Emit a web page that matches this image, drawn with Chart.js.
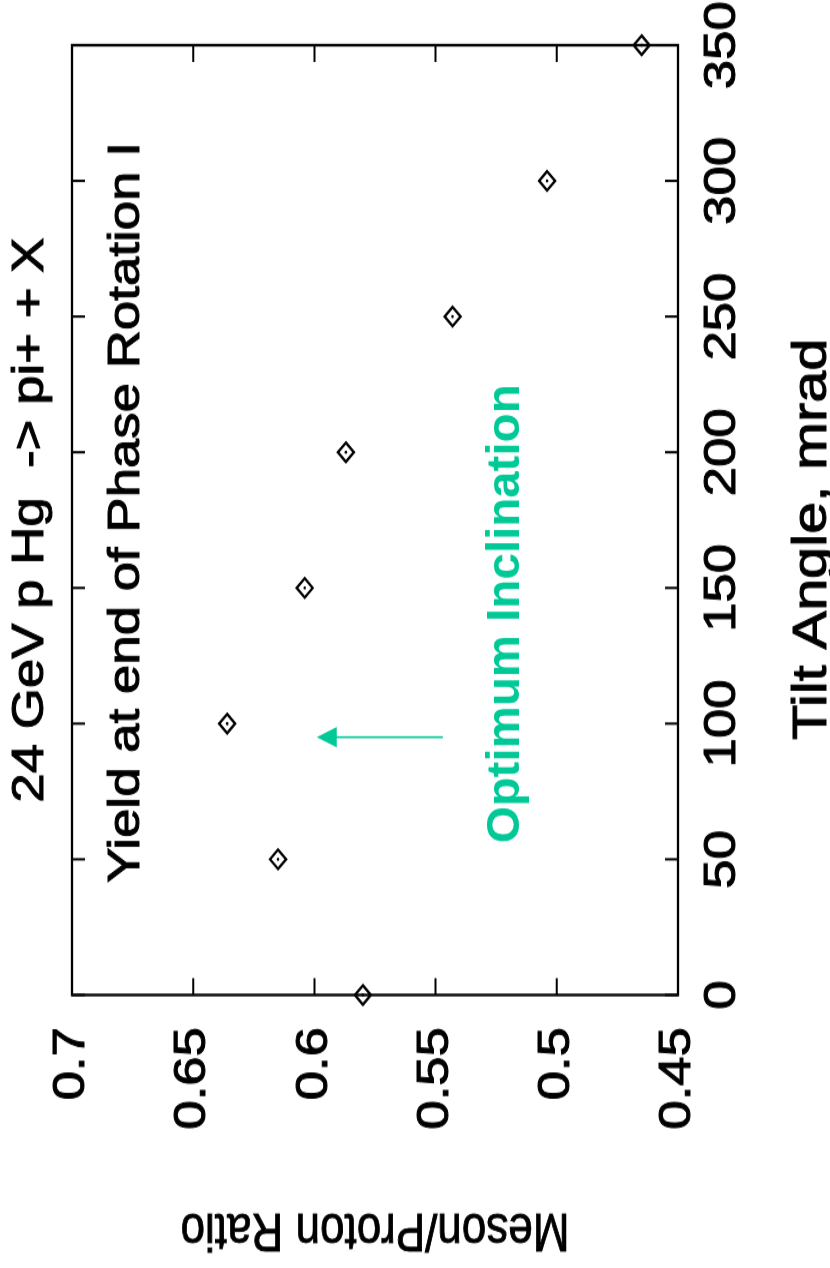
<!DOCTYPE html>
<html>
<head>
<meta charset="utf-8">
<script src="https://cdn.jsdelivr.net/npm/chart.js@4/dist/chart.umd.min.js"></script>
<style>
  html, body { margin: 0; padding: 0; background: #fff; overflow: hidden; }
  /* the plot is drawn upright and then turned a quarter left, like the scanned page */
  #wrap {
    position: absolute; left: 0; top: 0; width: 1057px; height: 830px;
    transform-origin: 0 0;
    transform: translate(0, 1268px) rotate(-90deg) scaleX(1.2);
  }
</style>
</head>
<body>
<div id="wrap"><canvas id="chart" width="1057" height="830"></canvas></div>
<script>
// Data
const tiltAngles = [0, 50, 100, 150, 200, 250, 300, 350];
const mesonRatio = [0.580, 0.615, 0.636, 0.604, 0.587, 0.543, 0.504, 0.465];
const xTicks = [0, 50, 100, 150, 200, 250, 300, 350];
const yTicks = [0.45, 0.5, 0.55, 0.6, 0.65, 0.7];
const yTickLabels = ['0.45', '0.5', '0.55', '0.6', '0.65', '0.7'];

// Annotation (arrow at the optimum)
const arrowX = 95;
const arrowFrom = 0.547;
const arrowTo = 0.599;

const FONT = '"Liberation Sans", Arial, Helvetica, sans-serif';
const GREEN = '#00c896';

function drawText(ctx, text, x, y, font, color, align, squeeze, stroke, rot) {
    ctx.save();
    ctx.translate(x, y);
    if (rot) ctx.rotate(rot);
    ctx.scale(squeeze || 1, 1);
    ctx.font = font;
    ctx.fillStyle = color;
    ctx.textAlign = align || 'left';
    ctx.textBaseline = rot ? 'middle' : 'alphabetic';
    ctx.fillText(text, 0, 0);
    if (stroke) {
        ctx.strokeStyle = color;
        ctx.lineWidth = stroke;
        ctx.strokeText(text, 0, 0);
    }
    ctx.restore();
}

// Box, inward ticks, arrow and labels
const framePlugin = {
    id: 'frame',
    afterDraw(chart) {
        const ctx = chart.ctx;
        const a = chart.chartArea;
        const xs = chart.scales.x;
        const ys = chart.scales.y;

        ctx.save();
        ctx.strokeStyle = '#000';
        ctx.lineWidth = 2.3;
        ctx.strokeRect(a.left, a.top, a.right - a.left, a.bottom - a.top);

        ctx.lineWidth = 2;
        ctx.beginPath();
        xTicks.forEach(v => {
            const px = xs.getPixelForValue(v);
            ctx.moveTo(px, a.top); ctx.lineTo(px, a.top + 13);
            ctx.moveTo(px, a.bottom); ctx.lineTo(px, a.bottom - 13);
        });
        yTicks.forEach(v => {
            const py = ys.getPixelForValue(v);
            ctx.moveTo(a.left, py); ctx.lineTo(a.left + 14, py);
            ctx.moveTo(a.right, py); ctx.lineTo(a.right - 14, py);
        });
        ctx.stroke();

        // arrow
        const ax = xs.getPixelForValue(arrowX);
        const y0 = ys.getPixelForValue(arrowFrom);
        const y1 = ys.getPixelForValue(arrowTo);
        ctx.strokeStyle = GREEN;
        ctx.fillStyle = GREEN;
        ctx.lineWidth = 1.6;
        ctx.beginPath();
        ctx.moveTo(ax, y0);
        ctx.lineTo(ax, y1 + 18);
        ctx.stroke();
        ctx.beginPath();
        ctx.moveTo(ax, y1);
        ctx.lineTo(ax - 8.5, y1 + 20);
        ctx.lineTo(ax + 8.5, y1 + 20);
        ctx.closePath();
        ctx.fill();
        ctx.restore();

        // titles and notes
        drawText(ctx, '24 GeV p Hg  -> pi+ + X', (a.left + a.right) / 2, 43,
            '44px ' + FONT, '#000', 'center', 1, 1);
        drawText(ctx, 'Yield at end of Phase Rotation I',
            xs.getPixelForValue(41.3), ys.getPixelForValue(0.6724),
            '44px ' + FONT, '#000', 'left', 1, 1);
        drawText(ctx, 'Optimum Inclination',
            xs.getPixelForValue(55.9), ys.getPixelForValue(0.5156),
            'bold 46px ' + FONT, GREEN, 'left', 0.86);
        drawText(ctx, 'Tilt Angle, mrad', (a.left + a.right) / 2 - 16, 826,
            '48px ' + FONT, '#000', 'center', 1, 1);
        drawText(ctx, 'Meson/Proton Ratio', 32.5, (a.top + a.bottom) / 2,
            '44px ' + FONT, '#000', 'center', 1, 0.8, -Math.PI / 2);
    }
};

new Chart(document.getElementById('chart'), {
    type: 'scatter',
    data: {
        datasets: [{
            data: tiltAngles.map((x, i) => ({ x: x, y: mesonRatio[i] })),
            clip: false,
            pointStyle: 'rectRot',
            pointRadius: 8,
            pointBorderWidth: 2.3,
            pointBorderColor: '#000',
            pointBackgroundColor: 'rgba(0,0,0,0)'
        }, {
            data: tiltAngles.map((x, i) => ({ x: x, y: mesonRatio[i] })),
            clip: false,
            pointStyle: 'circle',
            pointRadius: 1.3,
            pointBorderWidth: 0,
            pointBackgroundColor: '#000'
        }]
    },
    options: {
        responsive: false,
        devicePixelRatio: 1,
        animation: false,
        events: [],
        layout: { padding: { top: 72, right: 38, left: 0, bottom: 0 } },
        plugins: {
            legend: { display: false },
            tooltip: { enabled: false },
            title: { display: false }
        },
        scales: {
            x: {
                type: 'linear',
                position: 'bottom',
                min: 0,
                max: 350,
                grid: { display: false, drawTicks: false },
                border: { display: false },
                afterBuildTicks: s => { s.ticks = xTicks.map(v => ({ value: v })); },
                afterFit: s => { s.height = 152; s.paddingLeft = 0; s.paddingRight = 0; },
                ticks: {
                    autoSkip: false,
                    maxRotation: 0,
                    padding: 18.6,
                    color: '#000',
                    textStrokeColor: '#000',
                    textStrokeWidth: 1,
                    font: { family: FONT, size: 44 },
                    callback: v => String(v)
                },
                title: { display: false }
            },
            y: {
                type: 'linear',
                min: 0.45,
                max: 0.7,
                grid: { display: false, drawTicks: false },
                border: { display: false },
                afterBuildTicks: s => { s.ticks = yTicks.map(v => ({ value: v })); },
                afterFit: s => { s.width = 227.5; s.paddingTop = 0; s.paddingBottom = 0; },
                ticks: {
                    autoSkip: false,
                    padding: 26.7,
                    color: '#000',
                    textStrokeColor: '#000',
                    textStrokeWidth: 1,
                    font: { family: FONT, size: 44 },
                    callback: (v, i) => yTickLabels[i]
                },
                title: { display: false }
            }
        }
    },
    plugins: [framePlugin]
});
</script>
</body>
</html>
